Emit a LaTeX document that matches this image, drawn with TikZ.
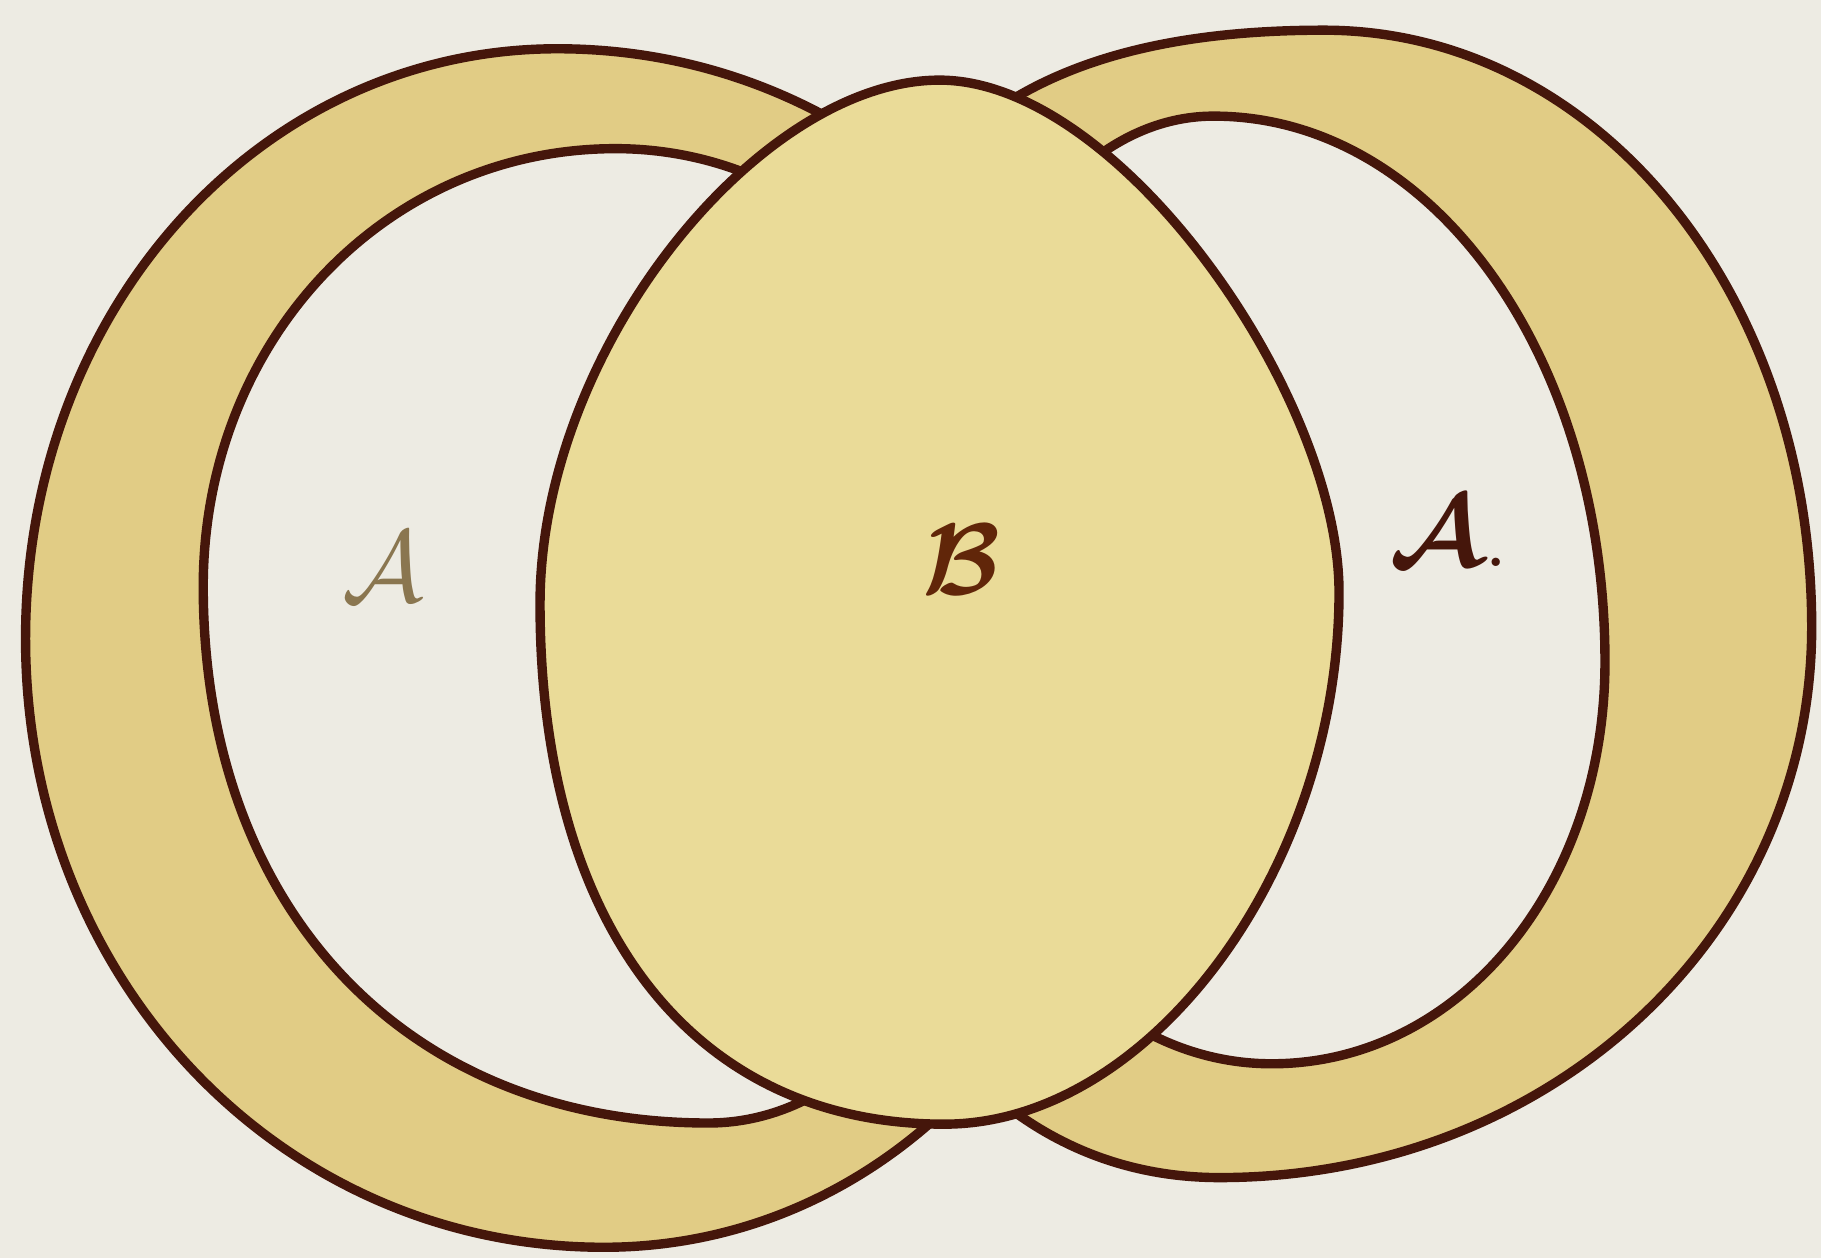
\documentclass[tikz,border=0pt]{standalone}
\usepackage{amsmath,amssymb}
\usepackage{xcolor}
\usepackage{tikz}
\usetikzlibrary{positioning}

\definecolor{paper}{HTML}{EDEBE3}
\definecolor{ink}{HTML}{45160B}
\definecolor{ringfill}{HTML}{E1CC85}
\definecolor{ovalfill}{HTML}{EADB98}
\definecolor{fadedink}{HTML}{8A7650}

\begin{document}
\begin{tikzpicture}[x=0.01cm, y=-0.01cm,
  outline/.style={ink, line width=2.3pt, line join=round, line cap=round},
  letter/.style={font=\Huge}]
  % Paper
  \fill[paper] (0,0) rectangle (1568,1083);
  \useasboundingbox (0,0) rectangle (1568,1083);

  % Left ring (its right part runs behind B)
  \filldraw[outline, fill=ringfill, even odd rule]
    (22,550) .. controls (22,266) and (224,42) .. (480,42)
      .. controls (757,42) and (975,270) .. (975,560)
      .. controls (975,848) and (775,1074) .. (520,1074)
      .. controls (241,1074) and (22,843) .. (22,550) -- cycle
    (175,505) .. controls (175,294) and (331,128) .. (530,128)
      .. controls (726,128) and (880,311) .. (880,545)
      .. controls (880,781) and (761,967) .. (610,967)
      .. controls (349,967) and (175,782) .. (175,505) -- cycle;

  % Right ring (its left part runs behind B)
  \filldraw[outline, fill=ringfill, even odd rule]
    (700,520) .. controls (700,170) and (830,26) .. (1140,26)
      .. controls (1375,26) and (1560,252) .. (1560,540)
      .. controls (1560,804) and (1336,1014) .. (1050,1014)
      .. controls (840,1014) and (700,816) .. (700,520) -- cycle
    (800,510) .. controls (800,280) and (908,100) .. (1045,100)
      .. controls (1234,100) and (1382,307) .. (1382,570)
      .. controls (1382,764) and (1256,916) .. (1095,916)
      .. controls (930,916) and (800,737) .. (800,510) -- cycle;

  % Oval B, laid over both rings
  \filldraw[outline, fill=ovalfill]
    (809,69) .. controls (964,69) and (1153,340) .. (1153,510)
      .. controls (1153,748) and (990,968) .. (813,968)
      .. controls (597,968) and (465,798) .. (465,520)
      .. controls (465,300) and (654,69) .. (809,69) -- cycle;

  % Letters
  \node[letter, fadedink] (labelAleft) at (330,488) {$\mathcal{A}$};
  \node[letter, ink!85!orange] (labelB) at (828,482) {$\boldsymbol{\mathcal{B}}$};
  \node[letter, ink] (labelAright) at (1248,458) {$\boldsymbol{\mathcal{A}}$.};
\end{tikzpicture}
\end{document}
